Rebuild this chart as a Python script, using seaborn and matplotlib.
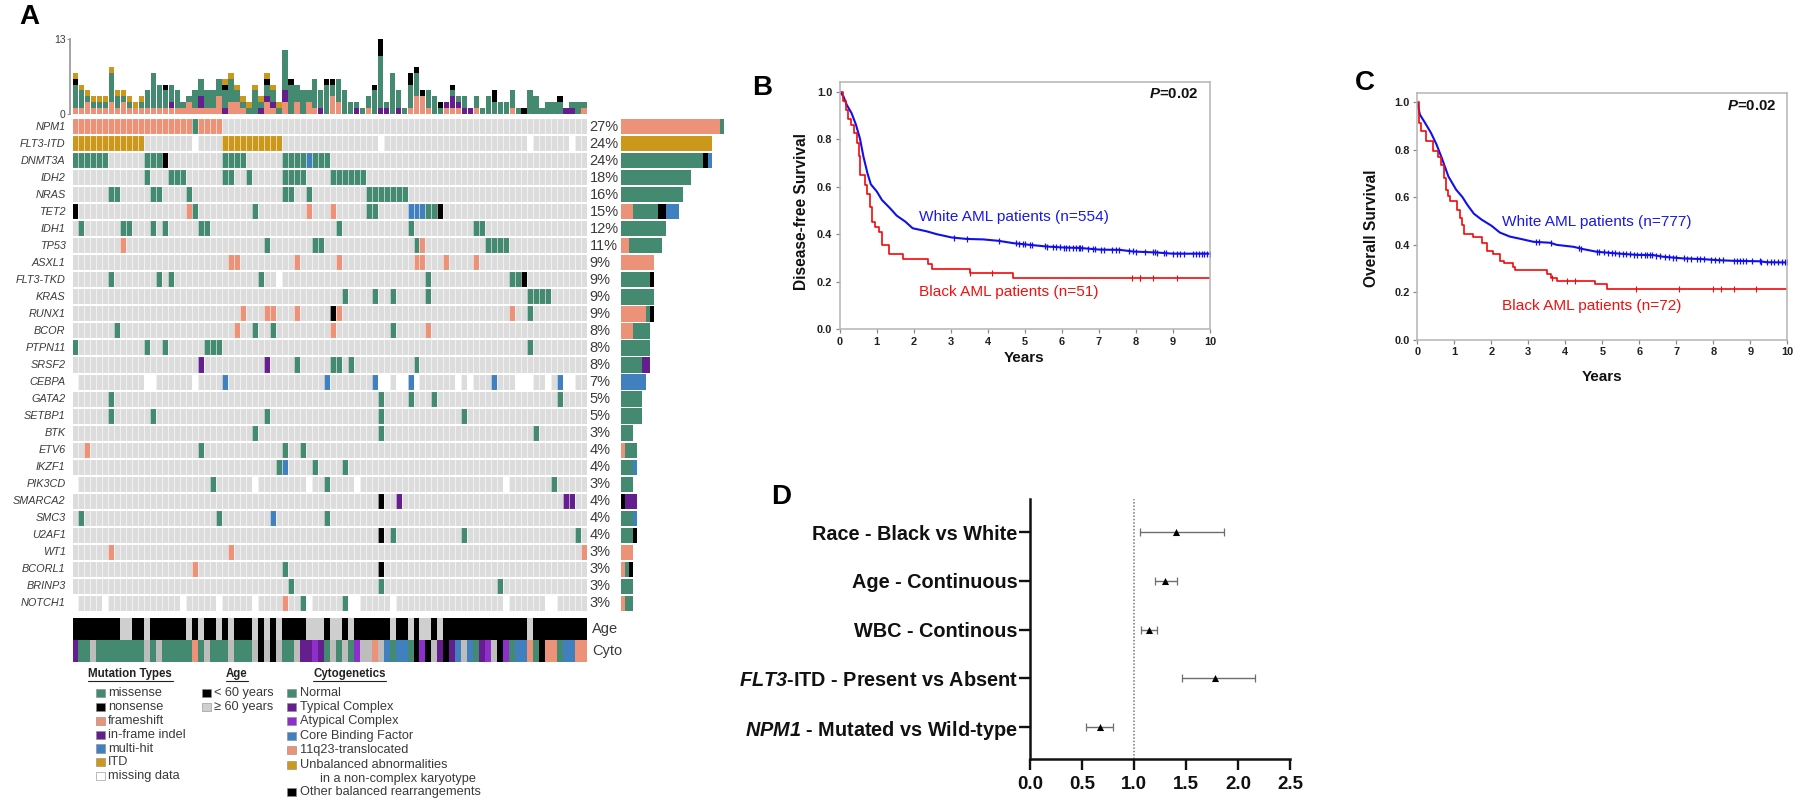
# AML oncoprint, survival curves and forest plot
import matplotlib
matplotlib.use("Agg")
import matplotlib.pyplot as plt
import numpy as np
import pandas as pd
import seaborn as sns
from matplotlib.colors import ListedColormap
from matplotlib.lines import Line2D
from matplotlib.patches import Rectangle

# ---- Panel A data ----
genes = ["NPM1", "FLT3-ITD", "DNMT3A", "IDH2", "NRAS", "TET2", "IDH1", "TP53", "ASXL1", "FLT3-TKD",
         "KRAS", "RUNX1", "BCOR", "PTPN11", "SRSF2", "CEBPA", "GATA2", "SETBP1", "BTK", "ETV6",
         "IKZF1", "PIK3CD", "SMARCA2", "SMC3", "U2AF1", "WT1", "BCORL1", "BRINP3", "NOTCH1"]
gene_pct = ["27%", "24%", "24%", "18%", "16%", "15%", "12%", "11%", "9%", "9%",
            "9%", "9%", "8%", "8%", "8%", "7%", "5%", "5%", "3%", "4%",
            "4%", "3%", "4%", "4%", "4%", "3%", "3%", "3%", "3%"]
n_samples = 86

# which sample columns carry each mutation type
missense = {
    "NPM1": [20],
    "DNMT3A": [0, 1, 2, 3, 4, 5, 12, 13, 14, 25, 26, 27, 28, 35, 36, 37, 38, 40, 41, 42],
    "IDH2": [12, 16, 17, 18, 25, 26, 29, 35, 36, 37, 38, 43, 44, 45, 46, 47, 48],
    "NRAS": [6, 7, 13, 14, 19, 35, 36, 39, 49, 50, 51, 52, 53, 54, 55],
    "TET2": [20, 30, 49, 50, 59, 60],
    "IDH1": [1, 8, 9, 13, 15, 21, 22, 44, 56, 67, 68],
    "TP53": [32, 40, 41, 57, 69, 70, 71, 72],
    "FLT3-TKD": [6, 14, 16, 31, 59, 73, 74],
    "KRAS": [45, 50, 53, 59, 76, 77, 78, 79],
    "RUNX1": [76],
    "BCOR": [7, 30, 33, 53],
    "PTPN11": [0, 12, 15, 22, 23, 24, 76],
    "SRSF2": [37, 43, 44, 46, 57],
    "GATA2": [6, 51, 56, 60, 81],
    "SETBP1": [6, 13, 32, 51, 65],
    "BTK": [30, 51, 77],
    "ETV6": [21, 35, 38],
    "IKZF1": [34, 40, 45],
    "PIK3CD": [23, 42, 80],
    "SMC3": [1, 24, 42],
    "U2AF1": [53, 65, 84],
    "BCORL1": [35],
    "BRINP3": [36, 51, 71],
    "NOTCH1": [38, 45],
}
frameshift = {
    "NPM1": [c for c in range(25) if c != 20],
    "TET2": [19, 39, 43],
    "TP53": [8, 58],
    "ASXL1": [26, 27, 37, 44, 57, 58, 62, 67],
    "RUNX1": [28, 32, 33, 37, 44, 73],
    "BCOR": [27, 43, 59],
    "ETV6": [2],
    "WT1": [6, 26, 85],
    "BCORL1": [20],
    "NOTCH1": [35],
}
nonsense = {
    "DNMT3A": [15],
    "TET2": [0, 61],
    "FLT3-TKD": [75],
    "RUNX1": [43],
    "SMARCA2": [51],
    "U2AF1": [51],
    "BCORL1": [51],
}
indel = {
    "SRSF2": [21, 32],
    "SMARCA2": [54, 82, 83],
}
multihit = {
    "DNMT3A": [39],
    "TET2": [56, 57, 58],
    "CEBPA": [25, 42, 50, 56, 70, 81],
    "IKZF1": [35],
    "SMC3": [33],
}
itd = {
    "FLT3-ITD": [0, 1, 2, 3, 4, 5, 6, 7, 8, 9, 10, 11, 25, 26, 27, 28, 29, 30, 31, 32, 33, 34],
}
missing = {
    "FLT3-ITD": [20, 51, 76, 83],
    "FLT3-TKD": [34],
    "CEBPA": [0, 12, 13, 20, 51, 52, 54, 55, 57, 64, 66, 74, 75, 76, 79, 82, 83],
    "PIK3CD": [0, 30, 39, 47, 72],
    "NOTCH1": [0, 5, 18, 24, 30, 39, 46, 47, 53, 72, 79, 80],
}

# stacked top bar, one value per sample
top_frameshift = [1, 1, 2, 1, 1, 1, 2, 1, 2, 1, 1, 1, 1, 1, 1, 1, 1, 1, 1, 2, 1, 1, 1, 1, 3, 0, 2, 2, 1, 0, 0, 0, 2,
                  1, 0, 2, 0, 2, 0, 2, 1, 0, 0, 3, 2, 0, 0, 0, 0, 1, 0, 0, 0, 0, 0, 0, 1, 3, 3, 1, 0, 0, 1, 1,
                  1, 0, 0, 1, 0, 0, 0, 0, 0, 1, 0, 0, 0, 0, 0, 0, 0, 0, 0, 0, 0, 1]
top_indel = [0, 0, 0, 0, 0, 0, 0, 0, 0, 0, 0, 0, 0, 0, 0, 0, 1, 0, 0, 0, 0, 2, 0, 0, 0, 1, 0, 0, 0, 0, 0, 1, 1,
             1, 0, 2, 0, 0, 0, 0, 0, 1, 0, 0, 0, 0, 0, 1, 0, 0, 0, 1, 1, 0, 1, 0, 0, 0, 0, 0, 0, 0, 1, 2,
             1, 1, 1, 0, 0, 0, 0, 0, 0, 0, 0, 0, 0, 0, 0, 0, 0, 0, 1, 1, 0, 0]
top_missense = [4, 3, 1, 1, 1, 1, 5, 2, 1, 1, 0, 1, 3, 6, 4, 3, 3, 3, 1, 1, 3, 3, 3, 3, 3, 3, 4, 2, 1, 1, 4, 1, 2,
                2, 1, 7, 5, 3, 4, 2, 5, 3, 5, 2, 4, 4, 2, 1, 1, 2, 4, 9, 1, 7, 3, 1, 4, 4, 0, 3, 3, 1, 0, 1,
                1, 2, 0, 2, 1, 3, 2, 2, 2, 3, 1, 0, 4, 3, 1, 2, 2, 2, 0, 1, 2, 1]
top_nonsense = [1, 0, 0, 0, 0, 0, 0, 0, 0, 0, 0, 0, 0, 0, 0, 1, 0, 0, 0, 0, 0, 0, 0, 0, 0, 1, 0, 0, 0, 0, 0, 0, 1,
                0, 0, 0, 1, 0, 0, 0, 0, 0, 1, 1, 0, 0, 0, 0, 0, 0, 1, 3, 0, 0, 0, 0, 2, 1, 1, 0, 0, 1, 0, 1,
                0, 0, 0, 0, 0, 0, 2, 0, 0, 0, 0, 1, 0, 0, 0, 0, 0, 1, 0, 0, 0, 0]
top_itd = [1, 1, 1, 1, 1, 1, 1, 1, 1, 1, 1, 1, 0, 0, 0, 0, 0, 0, 0, 0, 0, 0, 0, 0, 0, 1, 1, 1, 1, 1, 1, 1, 1,
           1, 1, 0, 0, 0, 0, 0, 0, 0, 0, 0, 0, 0, 0, 0, 0, 0, 0, 0, 0, 0, 0, 0, 0, 0, 0, 0, 0, 0, 0, 0,
           0, 0, 0, 0, 0, 0, 0, 0, 0, 0, 0, 0, 0, 0, 0, 0, 0, 0, 0, 0, 0, 0]

# run lengths (code, number of samples) for the two annotation rows
age_runs = [("u", 8), ("o", 2), ("u", 2), ("o", 1), ("u", 6), ("o", 1), ("u", 1), ("o", 1), ("u", 2), ("o", 1),
            ("u", 1), ("o", 1), ("u", 3), ("o", 1), ("u", 1), ("o", 1), ("u", 1), ("o", 1), ("u", 4), ("o", 3),
            ("u", 1), ("o", 2), ("u", 1), ("o", 1), ("u", 6), ("o", 1), ("u", 2), ("o", 1), ("u", 1), ("o", 2),
            ("u", 1), ("o", 1), ("u", 14), ("o", 1), ("u", 9)]
cyto_runs = [("typ", 1), ("nor", 2), ("na", 1), ("nor", 8), ("na", 1), ("nor", 1), ("na", 1), ("nor", 5), ("t11", 1),
             ("nor", 1), ("na", 1), ("nor", 3), ("na", 1), ("nor", 3), ("na", 1), ("oth", 1), ("na", 1), ("oth", 1),
             ("na", 1), ("nor", 2), ("na", 1), ("typ", 2), ("aty", 1), ("typ", 1), ("nor", 1), ("na", 1), ("nor", 1),
             ("na", 1), ("nor", 1), ("aty", 1), ("na", 2), ("t11", 1), ("na", 1), ("cbf", 1), ("nor", 1), ("cbf", 2),
             ("nor", 1), ("oth", 1), ("aty", 1), ("oth", 1), ("na", 1), ("typ", 1), ("oth", 1), ("typ", 1), ("cbf", 1),
             ("na", 1), ("cbf", 1), ("nor", 1), ("typ", 1), ("aty", 1), ("na", 1), ("oth", 1), ("aty", 1), ("nor", 1),
             ("cbf", 2), ("t11", 1), ("nor", 1), ("oth", 1), ("t11", 2), ("nor", 1), ("cbf", 2), ("t11", 2)]

mutation_labels = ["missense", "nonsense", "frameshift", "in-frame indel", "multi-hit", "ITD", "missing data"]
age_labels = ["< 60 years", "\u2265 60 years"]
cyto_labels = ["Normal", "Typical Complex", "Atypical Complex", "Core Binding Factor", "11q23-translocated",
               "Unbalanced abnormalities", "Other balanced rearrangements"]

# ---- Panel B data (years, survival) ----
dfs_white_t = [0, 0.1, 0.19, 0.32, 0.44, 0.55, 0.64, 0.75, 0.84, 1.0, 1.14, 1.36, 1.54, 1.77, 1.97, 2.35, 2.62, 3.03,
               3.43, 3.88, 4.29, 4.7, 5.14, 5.6, 6.04, 6.49, 7.03, 7.57, 7.93, 8.56, 9.0, 10]
dfs_white_s = [1.0, 0.98, 0.944, 0.909, 0.86, 0.80, 0.727, 0.656, 0.61, 0.58, 0.544, 0.509, 0.478, 0.453, 0.425, 0.412,
               0.40, 0.386, 0.38, 0.378, 0.372, 0.362, 0.355, 0.348, 0.344, 0.342, 0.335, 0.334, 0.327, 0.323, 0.318, 0.318]
dfs_white_cens = [3.1, 3.45, 4.3, 4.75, 4.85, 4.95, 5.0, 5.15, 5.2, 5.55, 5.6, 5.75, 5.85, 5.95, 6.05, 6.12, 6.2, 6.3,
                  6.38, 6.45, 6.5, 6.55, 6.7, 6.85, 6.9, 7.05, 7.15, 7.35, 7.45, 7.55, 7.8, 7.92, 8.0, 8.25, 8.45,
                  8.52, 8.58, 8.75, 8.8, 9.0, 9.1, 9.18, 9.3, 9.55, 9.62, 9.7, 9.78, 9.85, 9.92, 10]
dfs_black_t = [0, 0.1, 0.17, 0.23, 0.31, 0.39, 0.46, 0.52, 0.56, 0.68, 0.75, 0.82, 0.88, 0.95, 1.07, 1.13, 1.32, 1.71,
               2.38, 2.5, 3.52, 4.69, 10]
dfs_black_s = [1.0, 0.96, 0.923, 0.885, 0.86, 0.825, 0.785, 0.727, 0.65, 0.607, 0.57, 0.516, 0.453, 0.432, 0.411, 0.355,
               0.317, 0.296, 0.276, 0.255, 0.236, 0.215, 0.215]
dfs_black_cens = [3.52, 4.1, 7.9, 8.1, 8.12, 8.47, 9.1]

# ---- Panel C data ----
os_white_t = [0, 0.07, 0.21, 0.37, 0.52, 0.66, 0.84, 1.05, 1.22, 1.35, 1.53, 1.74, 2.01, 2.23, 2.5, 2.77, 3.14, 3.59,
              3.77, 4.22, 4.49, 4.85, 5.39, 5.93, 6.38, 6.65, 7.19, 7.73, 8.09, 8.54, 9.26, 9.44, 10]
os_white_s = [1.0, 0.948, 0.913, 0.871, 0.822, 0.766, 0.688, 0.632, 0.601, 0.569, 0.531, 0.506, 0.48, 0.452, 0.435, 0.426,
              0.413, 0.409, 0.40, 0.392, 0.382, 0.371, 0.364, 0.358, 0.357, 0.35, 0.343, 0.34, 0.336, 0.333, 0.331, 0.327, 0.326]
os_white_cens = [3.2, 3.3, 3.6, 4.37, 4.43, 4.85, 4.9, 5.05, 5.15, 5.25, 5.35, 5.45, 5.55, 5.65, 5.75, 5.85, 5.95, 6.05,
                 6.15, 6.22, 6.3, 6.35, 6.45, 6.55, 6.7, 6.8, 6.9, 7.0, 7.2, 7.3, 7.4, 7.55, 7.65, 7.75, 7.95, 8.05,
                 8.15, 8.25, 8.55, 8.65, 8.72, 8.8, 8.88, 9.05, 9.25, 9.3, 9.45, 9.55, 9.65, 9.75, 9.85, 9.95, 10]
os_black_t = [0, 0.05, 0.1, 0.23, 0.43, 0.57, 0.64, 0.71, 0.77, 0.82, 0.88, 1.08, 1.15, 1.22, 1.27, 1.5, 1.74, 1.89, 2.04,
              2.23, 2.35, 2.58, 2.64, 3.5, 3.61, 3.78, 4.8, 5.14, 10]
os_black_s = [1.0, 0.913, 0.878, 0.836, 0.794, 0.77, 0.737, 0.681, 0.632, 0.604, 0.586, 0.548, 0.513, 0.485, 0.447, 0.433,
              0.407, 0.375, 0.361, 0.334, 0.322, 0.306, 0.293, 0.278, 0.261, 0.25, 0.234, 0.216, 0.216]
os_black_cens = [3.65, 4.05, 4.25, 5.9, 7.08, 8.0, 8.2, 8.57, 9.15]

# ---- Panel D data (hazard ratios) ----
forest_labels = ["Race - Black vs White", "Age - Continuous", "WBC - Continous",
                 r"$\mathbfit{FLT3}$-ITD - Present vs Absent", r"$\mathbfit{NPM1}$ - Mutated vs Wild-type"]
forest_hr = [1.40, 1.30, 1.14, 1.78, 0.67]
forest_lo = [1.06, 1.20, 1.07, 1.46, 0.54]
forest_hi = [1.87, 1.41, 1.22, 2.16, 0.80]

# ---- Style ----
sns.set_theme(style="white")
plt.rcParams["font.family"] = ["Liberation Sans", "DejaVu Sans"]
plt.rcParams["mathtext.fontset"] = "custom"
plt.rcParams["mathtext.rm"] = "Liberation Sans:bold"
plt.rcParams["mathtext.bfit"] = "Liberation Sans:italic:bold"

GREEN = "#438A70"
SALMON = "#EB9278"
GOLD = "#CC981C"
PURPLE = "#651E8E"
VIOLET = "#8F2FCB"
BLUE = "#4180BE"
CELL = "#DCDCDC"
TEXT = "#3A3A3A"

W, H = 1800, 808
fig = plt.figure(figsize=(W / 100, H / 100), dpi=100, facecolor="white")


# helpers working in reference pixels
def px_axes(left, top, right, bottom):
    return fig.add_axes([left / W, 1 - bottom / H, (right - left) / W, (bottom - top) / H])


def px_text(x, y, s, **kw):
    kw.setdefault("va", "center")
    return fig.text(x / W, 1 - y / H, s, **kw)


# ---- A: main grid ----
type_layers = [("frameshift", frameshift, SALMON), ("missense", missense, GREEN), ("nonsense", nonsense, "black"),
               ("indel", indel, PURPLE), ("multihit", multihit, BLUE), ("itd", itd, GOLD)]
grid = np.zeros((len(genes), n_samples), dtype=int)
counts = pd.DataFrame(0, index=genes, columns=[t[0] for t in type_layers])
for code, (name, layer, color) in enumerate(type_layers, start=1):
    for gene, cols in layer.items():
        grid[genes.index(gene), cols] = code
        counts.loc[gene, name] = len(cols)
for gene, cols in missing.items():
    grid[genes.index(gene), cols] = 7

ax_grid = px_axes(72.5, 118, 587, 612)
grid_cmap = ListedColormap([CELL] + [t[2] for t in type_layers] + ["white"])
sns.heatmap(grid, ax=ax_grid, cmap=grid_cmap, vmin=-0.5, vmax=7.5, cbar=False, xticklabels=False, yticklabels=genes)
ax_grid.vlines(np.arange(1, n_samples), 0, len(genes), color="white", lw=0.55, alpha=0.75)
ax_grid.hlines(np.arange(0, len(genes) + 1), 0, n_samples, color="white", lw=1.5)
ax_grid.tick_params(axis="y", length=0, pad=5, labelrotation=0)
for lab in ax_grid.get_yticklabels():
    lab.set_fontsize(7.8)
    lab.set_fontstyle("italic")
    lab.set_color(TEXT)
for i, pct in enumerate(gene_pct):
    ax_grid.text(n_samples + 0.45, i + 0.5, pct, fontsize=10.5, color=TEXT, va="center", ha="left")

# ---- A: top stacked bars ----
ax_top = px_axes(72.5, 38.7, 587, 113.5)
top_df = pd.DataFrame({"sample": np.arange(n_samples), "frameshift": top_frameshift, "indel": top_indel,
                       "missense": top_missense, "nonsense": top_nonsense, "itd": top_itd})
bottom = np.zeros(n_samples)
for name, color in [("frameshift", SALMON), ("indel", PURPLE), ("missense", GREEN), ("nonsense", "black"), ("itd", GOLD)]:
    sns.barplot(data=top_df, x="sample", y=name, bottom=bottom, color=color, saturation=1, width=0.9,
                linewidth=0, ax=ax_top)
    bottom = bottom + top_df[name].to_numpy()
ax_top.set_xlim(-0.5, n_samples - 0.5)
ax_top.set_ylim(0, 13)
ax_top.set_xlabel("")
ax_top.set_ylabel("")
ax_top.set_xticks([])
ax_top.set_yticks([0, 13])
ax_top.tick_params(axis="y", length=2.5, width=0.8, color="#999999", labelsize=7.5, labelcolor=TEXT, pad=1, left=True)
sns.despine(ax=ax_top, top=True, right=True, bottom=True)
ax_top.spines["left"].set_color("#999999")
ax_top.spines["left"].set_position(("outward", 1.5))

# ---- A: per gene bars on the right ----
ax_right = px_axes(621, 118, 726, 612)
left = np.zeros(len(genes))
counts_long = counts.reset_index(names="gene")
for name, color in [("frameshift", SALMON), ("missense", GREEN), ("nonsense", "black"), ("indel", PURPLE),
                    ("multihit", BLUE), ("itd", GOLD)]:
    sns.barplot(data=counts_long, y="gene", x=name, left=left, color=color, saturation=1, width=0.9,
                linewidth=0, orient="h", ax=ax_right)
    left = left + counts_long[name].to_numpy()
ax_right.set_xlim(0, 105 / 4.12)
ax_right.set_ylim(len(genes) - 0.5, -0.5)
ax_right.axis("off")

# ---- A: age and cytogenetics rows ----
age_codes = {"u": 0, "o": 1}
cyto_codes = {"nor": 2, "typ": 3, "aty": 4, "cbf": 5, "t11": 6, "gold": 7, "oth": 0, "na": 8}
age_row = [age_codes[c] for c, n in age_runs for _ in range(n)]
cyto_row = [cyto_codes[c] for c, n in cyto_runs for _ in range(n)]
ax_anno = px_axes(72.5, 618.3, 587, 662)
anno_cmap = ListedColormap(["black", "#CFCFCF", GREEN, PURPLE, VIOLET, BLUE, SALMON, GOLD, "#BDBDBD"])
sns.heatmap(np.array([age_row, cyto_row]), ax=ax_anno, cmap=anno_cmap, vmin=-0.5, vmax=8.5, cbar=False,
            xticklabels=False, yticklabels=False)
px_text(592, 629, "Age", fontsize=10.5, color=TEXT)
px_text(592, 651, "Cyto", fontsize=10.5, color=TEXT)


# ---- A: hand placed legend ----
def swatch(x, y, color, edge="#888888"):
    fig.add_artist(Rectangle((x / W, 1 - (y + 4.2) / H), 9 / W, 8.4 / H, transform=fig.transFigure,
                             facecolor=color, edgecolor=edge, lw=0.4))


def header(x0, x1, y, s):
    px_text((x0 + x1) / 2, y, s, fontsize=8.3, fontweight="bold", ha="center", color="#222222")
    fig.add_artist(Line2D([x0 / W, x1 / W], [1 - (y + 7) / H] * 2, color="#222222", lw=0.8))


header(87.5, 173, 674, "Mutation Types")
header(225.7, 247.5, 674, "Age")
header(313, 385.7, 674, "Cytogenetics")

mut_colors = [GREEN, "black", SALMON, PURPLE, BLUE, GOLD, "white"]
mut_y = [693, 707, 721, 735, 748.5, 762, 776]
for label, color, y in zip(mutation_labels, mut_colors, mut_y):
    swatch(96, y, color)
    px_text(108, y, label, fontsize=9.2, color=TEXT)

for label, color, y in zip(age_labels, ["black", "#CFCFCF"], [693, 707]):
    swatch(201.6, y, color)
    px_text(214, y, label, fontsize=9.2, color=TEXT)

cyto_colors = [GREEN, PURPLE, VIOLET, BLUE, SALMON, GOLD, "black"]
cyto_y = [693, 707, 721, 736, 750, 765, 792]
for label, color, y in zip(cyto_labels, cyto_colors, cyto_y):
    swatch(287, y, color)
    px_text(299.6, y, label, fontsize=9.2, color=TEXT)
px_text(319.5, 779, "in a non-complex karyotype", fontsize=9.2, color=TEXT)


# ---- B and C: survival curves ----
def km_panel(ax, wt, ws, wc, bt, bs, bc):
    sns.lineplot(x=wt, y=ws, color="#1010EE", lw=1.5, estimator=None, sort=False, ax=ax)
    sns.lineplot(x=bt, y=bs, color="#F5080C", lw=1.2, estimator=None, sort=False, drawstyle="steps-post", ax=ax)
    sns.scatterplot(x=wc, y=np.interp(wc, wt, ws), marker="|", color="#1010EE", s=18, linewidth=0.9, ax=ax, clip_on=True)
    # censor marks sit on the step that is current at that time
    black_at = [bs[np.searchsorted(bt, c, side="right") - 1] for c in bc]
    sns.scatterplot(x=bc, y=black_at, marker="|", color="#F5080C", s=18, linewidth=0.8, ax=ax)
    ax.set_xlim(0, 10)
    ax.set_ylim(0, 1.04)
    ax.set_xticks(range(0, 11))
    ax.set_yticks([0.0, 0.2, 0.4, 0.6, 0.8, 1.0])
    ax.set_yticklabels(["0.0", "0.2", "0.4", "0.6", "0.8", "1.0"])
    ax.tick_params(length=3.2, width=0.9, color="#8A8A8A", labelsize=7.9, pad=2, labelcolor="#222222",
                   bottom=True, left=True)
    for lab in ax.get_xticklabels() + ax.get_yticklabels():
        lab.set_fontweight("bold")
    for spine in ax.spines.values():
        spine.set_color("#B4B4B4")
        spine.set_linewidth(1.1)
    ax.grid(False)


ax_b = px_axes(839.7, 82, 1210, 329.3)
km_panel(ax_b, dfs_white_t, dfs_white_s, dfs_white_cens, dfs_black_t, dfs_black_s, dfs_black_cens)
px_text(801, 212, "Disease-free Survival", fontsize=11.2, fontweight="bold", rotation=90, ha="center", color="#111111")
px_text(1024, 358, "Years", fontsize=11, fontweight="bold", ha="center", color="#111111")
px_text(919.3, 216.7, "White AML patients (n=554)", fontsize=11.1, color="#1A1AE6")
px_text(919.3, 291.7, "Black AML patients (n=51)", fontsize=11.1, color="#F01010")
px_text(1198, 94, r"$\mathbfit{P}$=0.02", fontsize=10.8, fontweight="bold", ha="right", color="#111111")

ax_c = px_axes(1417.3, 92.7, 1787.3, 340)
km_panel(ax_c, os_white_t, os_white_s, os_white_cens, os_black_t, os_black_s, os_black_cens)
px_text(1372, 228, "Overall Survival", fontsize=11.2, fontweight="bold", rotation=90, ha="center", color="#111111")
px_text(1601.7, 376.7, "Years", fontsize=11, fontweight="bold", ha="center", color="#111111")
px_text(1501.7, 222, "White AML patients (n=777)", fontsize=11.1, color="#1A1AE6")
px_text(1501.7, 306, "Black AML patients (n=72)", fontsize=11.1, color="#F01010")
px_text(1776, 105.7, r"$\mathbfit{P}$=0.02", fontsize=10.8, fontweight="bold", ha="right", color="#111111")

# ---- D: forest plot ----
ax_d = px_axes(1030, 499, 1290, 759)
forest_pos = np.arange(len(forest_labels))
forest_df = pd.DataFrame({"hr": forest_hr, "pos": forest_pos})
ax_d.axvline(1.0, color="#777777", lw=1.1, ls=(0, (1, 1.2)), zorder=1)
ax_d.errorbar(forest_hr, forest_pos,
              xerr=[np.array(forest_hr) - np.array(forest_lo), np.array(forest_hi) - np.array(forest_hr)],
              fmt="none", ecolor="#6E6E6E", elinewidth=1.0, capsize=2.6, capthick=0.9, zorder=2)
sns.scatterplot(data=forest_df, x="hr", y="pos", marker="^", color="black", s=26, linewidth=0, ax=ax_d, zorder=3)
ax_d.set_xlim(0, 2.5)
ax_d.set_ylim(4.656, -0.677)
ax_d.set_xlabel("")
ax_d.set_ylabel("")
ax_d.set_xticks([0, 0.5, 1.0, 1.5, 2.0, 2.5])
ax_d.set_xticklabels(["0.0", "0.5", "1.0", "1.5", "2.0", "2.5"])
ax_d.set_yticks(forest_pos)
ax_d.set_yticklabels(forest_labels)
ax_d.tick_params(length=8, width=1.7, color="#111111", labelcolor="#111111", bottom=True, left=True)
ax_d.tick_params(axis="x", pad=4.5)
ax_d.tick_params(axis="y", pad=1)
for lab in ax_d.get_xticklabels():
    lab.set_fontsize(13.5)
    lab.set_fontweight("bold")
for lab in ax_d.get_yticklabels():
    lab.set_fontsize(14.3)
    lab.set_fontweight("bold")
sns.despine(ax=ax_d)
ax_d.spines["left"].set_linewidth(1.8)
ax_d.spines["bottom"].set_linewidth(1.8)
ax_d.spines["left"].set_color("#111111")
ax_d.spines["bottom"].set_color("#111111")

# ---- Panel letters ----
for letter, x, y in [("A", 29, 17), ("B", 762, 88), ("C", 1365, 83), ("D", 781, 497)]:
    px_text(x, y, letter, fontsize=20, fontweight="bold", ha="center", color="black")

fig.savefig("out.png", dpi=100)
